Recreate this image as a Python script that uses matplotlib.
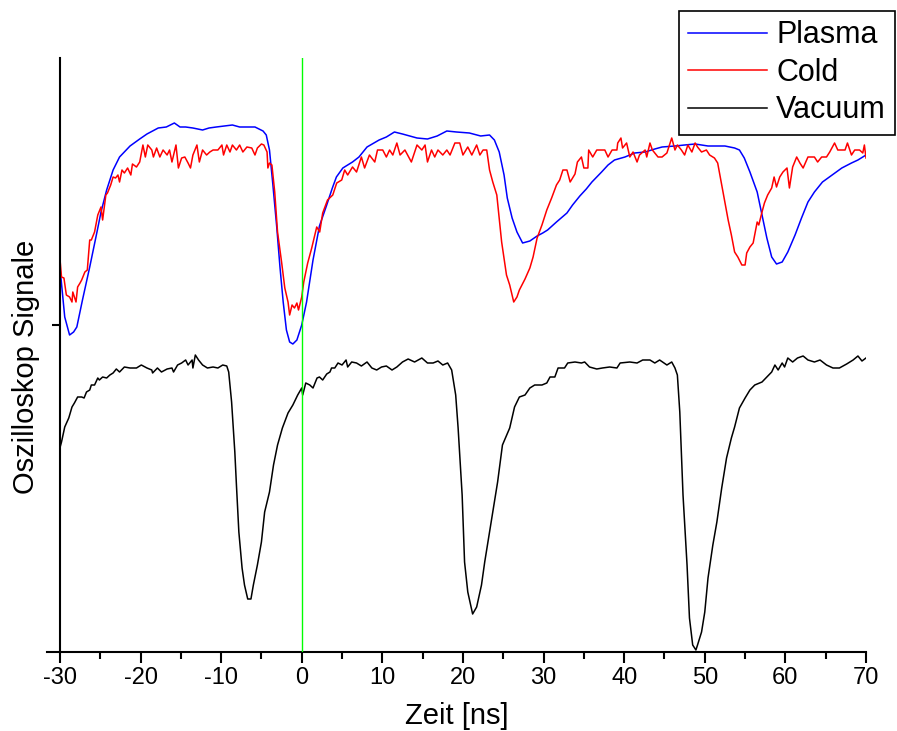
import matplotlib
matplotlib.use("Agg")
import matplotlib.pyplot as plt
from matplotlib.ticker import MultipleLocator

plt.rcParams["font.family"] = ["Liberation Sans", "DejaVu Sans"]

# --- Plasma (blue) ---
t_plasma = [-30.0, -29.4, -28.8, -28.3, -27.9, -27.2, -26.3, -25.4, -24.9, -24.2,
            -23.4, -22.6, -21.3, -20.1, -19.2, -18.5, -17.8, -16.8, -15.8, -15.1,
            -14.4, -13.5, -12.9, -12.3, -11.5, -10.6, -9.6, -8.6, -7.7, -6.8,
            -5.8, -4.8, -4.4, -4.0, -3.6, -3.1, -2.7, -2.3, -1.9, -1.5,
            -1.1, -0.6, 0.0, 0.6, 1.4, 2.2, 3.1, 3.8, 4.3, 5.1,
            6.3, 7.1, 8.1, 9.6, 10.5, 11.5, 12.5, 14.3, 15.6, 16.8,
            18.0, 19.2, 20.8, 22.2, 23.3, 23.9, 24.5, 25.1, 25.5, 26.1,
            26.7, 27.4, 28.3, 29.2, 29.9, 30.5, 31.6, 32.9, 33.6, 34.5,
            35.3, 36.0, 37.2, 38.0, 38.8, 40.1, 41.3, 42.6, 43.8, 44.7,
            46.3, 47.5, 48.8, 50.4, 52.5, 53.7, 54.3, 54.9, 55.6, 56.5,
            57.1, 57.7, 58.3, 58.9, 59.6, 60.3, 61.2, 62.0, 62.8, 63.6,
            64.6, 65.8, 67.0, 68.2, 69.0, 70.0]
sig_plasma = [385, 335, 317, 320, 325, 352, 385, 420, 440, 462,
              482, 495, 506, 513, 518, 521, 524, 525, 529, 525,
              525, 524, 523, 522, 524, 525, 526, 527, 525, 525,
              525, 521, 517, 502, 469, 425, 385, 350, 322, 310,
              308, 312, 327, 350, 392, 426, 447, 464, 475, 484,
              490, 495, 505, 512, 515, 520, 518, 514, 513, 516,
              521, 520, 519, 516, 517, 512, 500, 477, 454, 434,
              420, 409, 411, 416, 419, 422, 430, 439, 447, 456,
              463, 470, 480, 487, 492, 495, 499, 500, 503, 505,
              506, 507, 508, 506, 506, 504, 502, 494, 480, 460,
              437, 414, 395, 388, 390, 400, 417, 434, 450, 460,
              470, 477, 484, 489, 492, 497]

# --- Cold (red) ---
t_cold = [-30.0, -29.8, -29.5, -29.2, -28.8, -28.5, -28.4, -28.0, -27.8, -27.5,
          -27.3, -26.9, -26.6, -26.3, -26.1, -25.7, -25.3, -24.9, -24.7, -24.3,
          -24.1, -23.7, -23.4, -23.1, -22.8, -22.6, -22.3, -22.0, -21.6, -21.2,
          -21.0, -20.5, -20.1, -19.7, -19.4, -19.1, -18.6, -18.4, -18.0, -17.6,
          -17.2, -16.7, -16.4, -16.1, -15.6, -15.3, -14.9, -14.5, -14.1, -13.8,
          -13.5, -13.0, -12.7, -12.3, -11.8, -11.4, -11.0, -10.4, -9.9, -9.7,
          -9.3, -8.9, -8.6, -8.1, -7.7, -7.3, -6.8, -6.2, -5.8, -5.5,
          -5.0, -4.7, -4.3, -4.2, -4.0, -3.7, -3.35, -3.0, -2.5, -2.1,
          -1.7, -1.5, -1.2, -0.9, -0.6, -0.4, 0.0, 0.25, 0.74, 1.24,
          1.86, 2.23, 2.6, 3.2, 3.85, 4.34, 4.96, 5.33, 5.7, 6.3,
          6.8, 7.4, 7.8, 8.4, 9.06, 9.4, 10.05, 10.5, 10.9, 11.3,
          11.8, 12.2, 12.8, 13.6, 14.3, 14.9, 15.3, 15.6, 16.1, 16.5,
          16.9, 17.5, 18.0, 18.4, 19.0, 19.6, 20.0, 20.6, 21.1, 21.7,
          22.1, 22.5, 22.95, 23.3, 23.7, 24.2, 24.8, 25.4, 25.8, 26.3,
          26.7, 27.0, 27.7, 28.3, 28.7, 29.2, 29.8, 30.4, 31.0, 31.6,
          32.0, 32.4, 32.9, 33.3, 33.9, 34.2, 34.7, 35.0, 35.5, 35.6,
          36.1, 36.6, 37.6, 38.0, 38.5, 39.1, 39.2, 39.6, 39.8, 40.3,
          40.7, 41.1, 41.6, 41.9, 42.6, 42.8, 43.2, 43.5, 44.2, 44.7,
          45.3, 45.9, 46.3, 46.6, 47.1, 47.5, 47.9, 48.4, 48.8, 49.1,
          49.6, 50.2, 50.6, 51.2, 51.6, 52.1, 52.5, 52.9, 53.3, 53.7,
          54.1, 54.6, 55.0, 55.2, 55.6, 56.0, 56.5, 56.7, 57.1, 57.4,
          57.8, 58.3, 58.6, 58.9, 59.3, 59.7, 60.2, 60.5, 60.9, 61.4,
          61.8, 62.2, 62.8, 63.6, 64.0, 64.5, 65.1, 65.5, 66.1, 66.5,
          67.4, 67.7, 68.2, 68.6, 69.2, 69.6, 69.8, 70.0]
sig_cold = [394, 375, 374, 357, 355, 350, 360, 350, 365, 369,
            372, 380, 382, 412, 412, 420, 437, 445, 432, 457,
            459, 467, 475, 474, 477, 470, 482, 479, 484, 477,
            488, 485, 490, 507, 495, 507, 502, 495, 504, 495,
            502, 497, 502, 490, 507, 484, 494, 495, 489, 484,
            497, 507, 490, 502, 497, 500, 502, 502, 507, 497,
            507, 500, 507, 502, 507, 500, 505, 504, 497, 504,
            508, 507, 500, 484, 489, 487, 460, 420, 390, 364,
            350, 337, 347, 344, 349, 342, 355, 370, 389, 404,
            425, 420, 439, 452, 457, 469, 472, 482, 477, 485,
            480, 495, 484, 497, 490, 502, 502, 495, 502, 497,
            509, 497, 502, 490, 507, 502, 507, 490, 502, 495,
            502, 497, 502, 497, 509, 509, 497, 505, 497, 507,
            497, 502, 502, 482, 470, 457, 410, 377, 367, 350,
            355, 362, 373, 384, 395, 414, 427, 442, 454, 467,
            472, 482, 482, 470, 478, 490, 495, 484, 484, 502,
            495, 502, 502, 495, 502, 502, 509, 514, 504, 509,
            495, 500, 490, 497, 502, 495, 509, 502, 495, 495,
            499, 514, 502, 507, 502, 497, 507, 500, 509, 505,
            500, 502, 497, 494, 489, 467, 450, 432, 417, 400,
            395, 387, 387, 399, 405, 409, 430, 427, 440, 449,
            457, 464, 475, 465, 475, 480, 484, 464, 485, 495,
            489, 484, 495, 495, 490, 495, 495, 500, 509, 502,
            502, 509, 497, 502, 502, 499, 507, 494]

# --- Vacuum (black) ---
t_vacuum = [-30.0, -29.8, -29.4, -28.9, -28.5, -28.2, -27.8, -27.3, -27.0, -26.7,
            -26.3, -26.1, -25.7, -25.3, -25.1, -24.7, -24.2, -23.8, -23.4, -23.0,
            -22.6, -22.0, -21.3, -20.5, -19.9, -19.2, -18.6, -18.5, -17.9, -17.4,
            -16.7, -16.1, -15.9, -15.4, -14.9, -14.4, -14.1, -13.6, -13.5, -13.2,
            -12.8, -12.3, -11.7, -11.0, -10.4, -9.8, -9.3, -9.06, -8.7, -8.3,
            -8.1, -7.8, -7.4, -7.1, -6.7, -6.3, -6.0, -5.5, -5.0, -4.6,
            -4.0, -3.5, -3.0, -2.4, -1.7, -1.1, -0.5, 0.0, 0.12, 0.5,
            1.0, 1.4, 1.9, 2.2, 2.6, 3.1, 3.5, 3.7, 4.1, 4.5,
            5.0, 5.5, 5.7, 6.2, 6.8, 7.4, 8.1, 8.7, 9.3, 9.9,
            10.5, 11.2, 11.8, 12.5, 13.2, 14.0, 14.9, 15.6, 16.3, 16.9,
            17.5, 18.1, 18.6, 18.7, 19.1, 19.4, 19.9, 20.2, 20.6, 21.2,
            21.7, 22.3, 22.7, 23.3, 23.9, 24.3, 24.9, 25.8, 26.4, 27.0,
            27.7, 28.3, 28.9, 29.8, 30.4, 30.8, 31.4, 31.8, 32.6, 33.0,
            33.9, 34.7, 35.1, 35.7, 36.6, 37.3, 38.2, 39.1, 39.5, 40.7,
            41.6, 42.3, 43.2, 43.8, 44.4, 45.3, 45.9, 46.3, 46.6, 46.9,
            47.3, 47.8, 48.1, 48.5, 48.9, 49.1, 49.6, 50.0, 50.4, 51.0,
            51.5, 52.1, 52.7, 53.3, 53.7, 54.3, 55.0, 55.6, 56.2, 57.1,
            57.7, 58.3, 58.7, 59.1, 59.6, 59.9, 60.3, 60.9, 61.5, 62.2,
            62.8, 63.6, 64.3, 65.1, 65.9, 66.7, 67.6, 68.4, 69.0, 69.5,
            70.0]
sig_vacuum = [204, 210, 225, 234, 245, 249, 255, 255, 254, 260,
              262, 267, 267, 274, 272, 275, 274, 277, 279, 283,
              280, 285, 284, 284, 287, 284, 282, 279, 284, 280,
              283, 284, 280, 287, 289, 292, 287, 292, 284, 297,
              292, 287, 284, 285, 284, 287, 286, 280, 250, 200,
              167, 120, 84, 67, 53, 53, 67, 87, 110, 140,
              160, 187, 207, 224, 239, 247, 257, 264, 257, 269,
              267, 264, 274, 275, 272, 278, 280, 284, 284, 289,
              287, 292, 285, 290, 289, 286, 290, 284, 282, 285,
              286, 282, 285, 290, 293, 290, 294, 289, 289, 291,
              287, 289, 282, 277, 257, 224, 157, 90, 60, 38,
              45, 67, 90, 120, 150, 170, 207, 224, 245, 255,
              257, 264, 267, 267, 269, 275, 275, 284, 284, 289,
              290, 289, 290, 285, 283, 284, 285, 284, 289, 290,
              289, 292, 292, 289, 292, 287, 290, 284, 277, 240,
              157, 87, 34, 7, 2, 7, 20, 40, 74, 107,
              130, 164, 194, 214, 225, 244, 254, 262, 267, 270,
              275, 280, 287, 282, 289, 285, 294, 290, 294, 296,
              292, 290, 292, 287, 284, 284, 288, 292, 296, 291,
              294]

x_major_ticks = [-30, -20, -10, 0, 10, 20, 30, 40, 50, 60, 70]
x_tick_labels = ["-30", "-20", "-10", "0", "10", "20", "30", "40", "50", "60", "70"]
y_ticks = [327]

fig = plt.figure(figsize=(8.97, 7.31), dpi=100)
ax = fig.add_axes([47 / 897, 79 / 731, 819 / 897, 594 / 731])

ax.plot(t_plasma, sig_plasma, color="#0000ff", lw=1.1, label="Plasma")
ax.plot(t_cold, sig_cold, color="#ff0000", lw=1.1, label="Cold")
ax.plot(t_vacuum, sig_vacuum, color="black", lw=1.1, label="Vacuum")
ax.axvline(0, color="#00ff00", lw=1.0, zorder=5)

ax.set_xlim(-31.6, 70)
ax.set_ylim(0, 594)

ax.spines["top"].set_visible(False)
ax.spines["right"].set_visible(False)
ax.spines["left"].set_position(("data", -30))
for s in ("left", "bottom"):
    ax.spines[s].set_linewidth(1.5)

ax.set_xticks(x_major_ticks)
ax.set_xticklabels(x_tick_labels)
ax.xaxis.set_minor_locator(MultipleLocator(5))
ax.set_yticks(y_ticks)
ax.set_yticklabels([])
ax.tick_params(axis="x", which="major", direction="out", length=8, width=1.5,
               labelsize=17, pad=3)
ax.tick_params(axis="x", which="minor", direction="out", length=5, width=1.5)
ax.tick_params(axis="y", which="major", direction="out", length=6, width=1.5)

ax.set_xlabel("Zeit [ns]", fontsize=21)
ax.xaxis.set_label_coords(0.5, -0.084)
ax.set_ylabel("Oszilloskop Signale", fontsize=21)
ax.yaxis.set_label_coords(-0.009, 0.48)

leg = ax.legend(loc="upper left", bbox_to_anchor=(679 / 897, 1 - 11 / 731),
                bbox_transform=fig.transFigure, fontsize=22, frameon=True,
                fancybox=False, shadow=False, borderaxespad=0, borderpad=0.31,
                handlelength=2.57, handletextpad=0.3, labelspacing=0.245)
leg.get_frame().set_edgecolor("black")
leg.get_frame().set_linewidth(1.2)
leg.get_frame().set_alpha(1)

fig.savefig("out.png", dpi=100)
